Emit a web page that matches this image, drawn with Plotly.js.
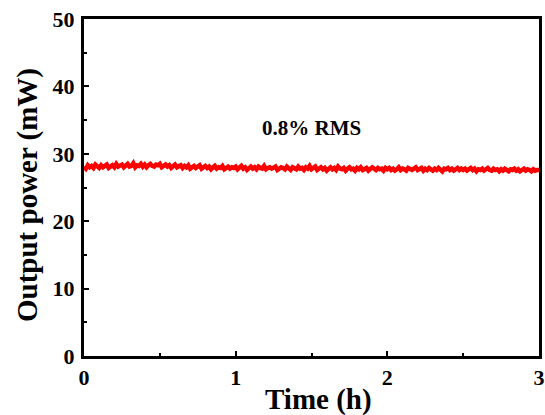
<!DOCTYPE html>
<html>
<head>
<meta charset="utf-8">
<script src="https://cdn.plot.ly/plotly-3.0.1.min.js"></script>
<style>html,body{margin:0;padding:0;background:#fff;}#chart{width:545px;height:415px;}</style>
</head>
<body>
<div id="chart"></div>
<script>
// Output power (mW) sampled every 0.0125 h over 3 h
const power = [
28.1, 27.8, 28.3, 28.0, 28.2, 27.9, 28.4, 28.1, 27.9, 28.3, 28.0, 28.2, 28.4, 27.9, 28.1, 28.3, 28.0, 28.5, 28.1, 28.2,
28.4, 28.0, 28.3, 28.5, 28.1, 28.2, 28.6, 28.0, 28.3, 28.2, 28.5, 28.1, 28.4, 28.0, 28.3, 28.5, 28.2, 28.1, 28.4, 28.3,
28.5, 28.0, 28.2, 28.4, 28.1, 28.3, 27.9, 28.2, 28.4, 28.0, 28.1, 28.3, 27.9, 28.2, 28.0, 28.3, 27.8, 28.1, 28.2, 27.9,
28.1, 28.3, 27.8, 28.0, 28.2, 27.9, 28.1, 27.7, 28.0, 28.2, 27.8, 28.0, 27.9, 28.2, 27.7, 28.0, 28.1, 27.8, 28.0, 27.9,
28.1, 27.7, 27.9, 28.2, 27.8, 28.0, 27.6, 27.9, 28.1, 27.8, 28.0, 27.7, 28.1, 27.9, 27.8, 28.2, 27.7, 27.9, 28.0, 27.8,
27.9, 28.1, 27.6, 27.8, 28.0, 27.9, 27.7, 28.1, 27.8, 27.6, 28.0, 27.9, 27.7, 28.1, 27.8, 27.9, 27.6, 28.0, 27.8, 28.2,
27.7, 27.9, 28.1, 27.6, 27.8, 28.0, 27.7, 27.9, 27.5, 27.8, 28.0, 27.7, 27.9, 27.6, 28.1, 27.8, 27.7, 27.9, 27.5, 27.8,
28.0, 27.7, 27.8, 27.5, 27.9, 27.7, 28.0, 27.6, 27.8, 27.9, 27.5, 27.7, 28.0, 27.8, 27.6, 27.9, 27.7, 27.8, 27.5, 27.9,
27.7, 27.9, 27.6, 27.8, 27.5, 27.7, 28.0, 27.6, 27.8, 27.7, 27.5, 27.9, 27.7, 27.6, 27.8, 28.0, 27.6, 27.7, 27.9, 27.5,
27.8, 27.6, 27.9, 27.7, 27.5, 27.8, 27.6, 27.9, 27.7, 27.4, 27.8, 27.7, 27.9, 27.6, 27.8, 27.5, 27.7, 27.9, 27.6, 27.8,
27.6, 27.8, 27.5, 27.7, 27.9, 27.6, 27.8, 27.4, 27.7, 27.6, 27.8, 27.5, 27.7, 27.9, 27.6, 27.5, 27.8, 27.6, 27.7, 27.4,
27.7, 27.5, 27.8, 27.6, 27.4, 27.7, 27.6, 27.8, 27.5, 27.7, 27.4, 27.6, 27.8, 27.5, 27.7, 27.6, 27.4, 27.7, 27.5, 27.6,
27.6
];
const timeStep = 0.0125; // h
const time = power.map((_, i) => i * timeStep);
const xTicks = [0, 1, 2, 3];
const yTicks = [0, 10, 20, 30, 40, 50];
const xTitle = "Time (h)";
const yTitle = "Output power (mW)";
const annotationText = "0.8% RMS";

const fontFam = "'Liberation Serif', 'Times New Roman', serif";

const trace = {
  x: time, y: power, type: 'scatter', mode: 'lines',
  line: {color: '#ff0000', width: 4.5},
  hoverinfo: 'skip'
};

const axisCommon = {
  showline: true, linecolor: '#000', linewidth: 3, mirror: true,
  ticks: 'inside', ticklen: 5, tickwidth: 2, tickcolor: '#000',
  showgrid: false, zeroline: false,
  tickfont: {family: fontFam, size: 22, color: '#000', weight: 'bold'},
  tickmode: 'array'
};

const W = 545, H = 415, mL = 84, mR = 6, mT = 19, mB = 59;
const plotW = W - mL - mR, plotH = H - mT - mB;

const layout = {
  width: W, height: H,
  margin: {l: mL, r: mR, t: mT, b: mB},
  paper_bgcolor: '#fff', plot_bgcolor: '#fff',
  showlegend: false,
  xaxis: Object.assign({}, axisCommon, {
    range: [0, 3], tickvals: xTicks, ticktext: xTicks.map(String),
    minor: {tickvals: [0.5, 1.5, 2.5], ticks: 'inside', ticklen: 3, tickwidth: 2, tickcolor: '#000'},
    ticklabelstandoff: 0
  }),
  yaxis: Object.assign({}, axisCommon, {
    range: [0, 50], tickvals: yTicks, ticktext: yTicks.map(String),
    minor: {tickvals: [5, 15, 25, 35, 45], ticks: 'inside', ticklen: 3, tickwidth: 2, tickcolor: '#000'},
    ticklabelstandoff: 2
  }),
  annotations: [
    {
      x: 1.5, y: 33.8, xref: 'x', yref: 'y', text: annotationText, showarrow: false,
      xanchor: 'center', yanchor: 'middle',
      font: {family: fontFam, size: 21, color: '#000', weight: 'bold'}
    },
    {
      x: (318 - mL) / plotW, y: (H - mB - 399) / plotH, xref: 'paper', yref: 'paper',
      text: xTitle, showarrow: false, xanchor: 'center', yanchor: 'middle',
      font: {family: fontFam, size: 29, color: '#000', weight: 'bold'}
    },
    {
      x: (27 - mL) / plotW, y: (H - mB - 195) / plotH, xref: 'paper', yref: 'paper',
      text: yTitle, showarrow: false, textangle: -90, xanchor: 'center', yanchor: 'middle',
      font: {family: fontFam, size: 29, color: '#000', weight: 'bold'}
    }
  ]
};

Plotly.newPlot('chart', [trace], layout, {displayModeBar: false, staticPlot: true});
</script>
</body>
</html>
